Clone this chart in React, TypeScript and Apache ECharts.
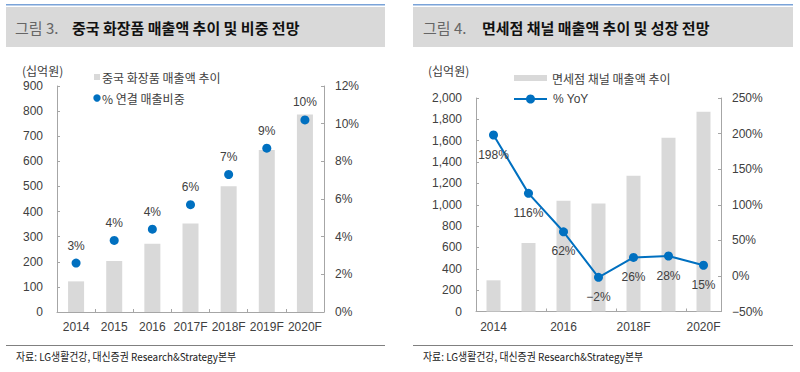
import React, { useEffect, useRef } from "react";
import * as echarts from "echarts";

// ---- data ----
const leftCategories = ["2014", "2015", "2016", "2017F", "2018F", "2019F", "2020F"];
const leftSales = [122, 203, 272, 352, 501, 645, 787]; // 십억원
const leftShare = [2.6, 3.8, 4.4, 5.7, 7.3, 8.7, 10.2]; // %
const rightCategories = ["2014", "2015", "2016", "2017F", "2018F", "2019F", "2020F"];
const rightSales = [292, 641, 1037, 1012, 1272, 1628, 1872]; // 십억원
const rightYoY = [198, 116, 62, -2, 26, 28, 15]; // %

const leftTitleNo = "그림 3.";
const leftTitle = "중국 화장품 매출액 추이 및 비중 전망";
const rightTitleNo = "그림 4.";
const rightTitle = "면세점 채널 매출액 추이 및 성장 전망";
const leftLegend = ["중국 화장품 매출액 추이", "% 연결 매출비중"];
const rightLegend = ["면세점 채널 매출액 추이", "% YoY"];
const unitLabel = "(십억원)";
const sourceText = "자료: LG생활건강, 대신증권 Research&Strategy본부";

const NUM_FONT = '"Liberation Sans", Arial, "Noto Sans CJK KR", sans-serif';
const KR_FONT = '"Noto Sans CJK KR", "Liberation Sans", sans-serif';
const TEXT = "#404040";
const AXIS = "#a6a6a6";
const BAR = "#d9d9d9";
const BLUE = "#0070c0";

const fmtPct = (v: number) => (v < 0 ? "\u2212" + Math.abs(v) : String(v)) + "%";
const fmtComma = (v: number) => v.toLocaleString("en-US");

export default function App() {
  const ref = useRef<HTMLDivElement>(null);
  useEffect(() => {
    if (!ref.current) return;
    const chart = echarts.init(ref.current, undefined, { renderer: "svg" });
    const axisLine = { show: true, lineStyle: { color: AXIS, width: 1 } };
    const yLabel = { color: TEXT, fontSize: 12, fontFamily: NUM_FONT };
    const titleBlock = (x0: number, x1: number, tx: number, bx: number, no: string, t: string) => [
      { type: "rect", shape: { x: x0, y: 4, width: x1 - x0, height: 1.5 }, style: { fill: "#7aa3d8" } },
      { type: "rect", shape: { x: x0, y: 7, width: x1 - x0, height: 40 }, style: { fill: "#d9d9d9" } },
      { type: "text", x: tx, y: 27, style: { text: no, fill: "#666666", font: `15px ${KR_FONT}`, textVerticalAlign: "middle" } },
      { type: "text", x: bx, y: 27, style: { text: t, fill: "#111111", font: `bold 15px ${KR_FONT}`, textVerticalAlign: "middle" } },
    ];
    const footer = (x0: number, x1: number, tx: number) => [
      { type: "line", shape: { x1: x0, y1: 345.5, x2: x1, y2: 345.5 }, style: { stroke: "#808080", lineWidth: 1 } },
      { type: "text", x: tx, y: 356, scaleX: 0.9, style: { text: sourceText, fill: "#222222", font: `11px ${KR_FONT}`, textVerticalAlign: "middle" } },
    ];
    chart.setOption({
      animation: false,
      grid: [
        { left: 57, right: 476, top: 86, bottom: 60 },
        { left: 476, right: 79, top: 98, bottom: 60.5 },
      ],
      xAxis: [
        {
          type: "category", gridIndex: 0, data: leftCategories, boundaryGap: true,
          axisLine, axisTick: { show: true, inside: true, length: 3, lineStyle: { color: AXIS } },
          axisLabel: { color: TEXT, fontSize: 12, fontFamily: NUM_FONT, margin: 9, interval: 0 },
        },
        {
          type: "category", gridIndex: 1, data: rightCategories, boundaryGap: true,
          axisLine, axisTick: { show: true, inside: true, length: 3, interval: 1, lineStyle: { color: AXIS } },
          axisLabel: { color: TEXT, fontSize: 12, fontFamily: NUM_FONT, margin: 9, interval: 1 },
        },
      ],
      yAxis: [
        {
          type: "value", gridIndex: 0, min: 0, max: 900, interval: 100, position: "left",
          axisLine, axisTick: { show: true, inside: true, length: 3, lineStyle: { color: AXIS } },
          axisLabel: { ...yLabel, margin: 14 }, splitLine: { show: false },
        },
        {
          type: "value", gridIndex: 0, min: 0, max: 12, interval: 2, position: "right",
          axisLine, axisTick: { show: true, inside: true, length: 3, lineStyle: { color: AXIS } },
          axisLabel: { ...yLabel, margin: 11, formatter: (v: number) => fmtPct(v) }, splitLine: { show: false },
        },
        {
          type: "value", gridIndex: 1, min: 0, max: 2000, interval: 200, position: "left",
          axisLine, axisTick: { show: true, inside: true, length: 3, lineStyle: { color: AXIS } },
          axisLabel: { ...yLabel, margin: 14, formatter: (v: number) => fmtComma(v) }, splitLine: { show: false },
        },
        {
          type: "value", gridIndex: 1, min: -50, max: 250, interval: 50, position: "right",
          axisLine, axisTick: { show: true, inside: true, length: 3, lineStyle: { color: AXIS } },
          axisLabel: { ...yLabel, margin: 11, formatter: (v: number) => fmtPct(v) }, splitLine: { show: false },
        },
      ],
      series: [
        {
          name: leftLegend[0], type: "bar", xAxisIndex: 0, yAxisIndex: 0, data: leftSales,
          barWidth: "42%", itemStyle: { color: BAR },
        },
        {
          name: leftLegend[1], type: "scatter", xAxisIndex: 0, yAxisIndex: 1, data: leftShare,
          symbol: "circle", symbolSize: 9, itemStyle: { color: BLUE, opacity: 1 },
          label: {
            show: true, position: "top", distance: 7, color: TEXT, fontSize: 12, fontFamily: NUM_FONT,
            formatter: (p: any) => Math.round(p.value) + "%",
          },
        },
        {
          name: rightLegend[0], type: "bar", xAxisIndex: 1, yAxisIndex: 2, data: rightSales,
          barWidth: "40%", itemStyle: { color: BAR },
        },
        {
          name: rightLegend[1], type: "line", xAxisIndex: 1, yAxisIndex: 3, data: rightYoY,
          symbol: "circle", symbolSize: 9, showSymbol: true,
          lineStyle: { color: BLUE, width: 2 }, itemStyle: { color: BLUE, opacity: 1 },
          label: {
            show: true, position: "bottom", distance: 9, color: TEXT, fontSize: 12, fontFamily: NUM_FONT,
            formatter: (p: any) => fmtPct(p.value),
          },
        },
      ],
      graphic: [
        ...titleBlock(6, 385, 15, 72, leftTitleNo, leftTitle),
        ...titleBlock(413, 793, 423, 482, rightTitleNo, rightTitle),
        // units
        { type: "text", x: 22, y: 70, style: { text: unitLabel, fill: TEXT, font: `12px ${KR_FONT}`, textVerticalAlign: "middle" } },
        { type: "text", x: 428, y: 70, style: { text: unitLabel, fill: TEXT, font: `12px ${KR_FONT}`, textVerticalAlign: "middle" } },
        // left legend
        { type: "rect", shape: { x: 94, y: 74, width: 6, height: 6 }, style: { fill: BAR } },
        { type: "text", x: 102, y: 77, style: { text: leftLegend[0], fill: TEXT, font: `12px ${KR_FONT}`, textVerticalAlign: "middle" } },
        { type: "circle", shape: { cx: 97, cy: 98, r: 3.7 }, style: { fill: BLUE } },
        { type: "text", x: 102, y: 98, style: { text: leftLegend[1], fill: TEXT, font: `12px ${KR_FONT}`, textVerticalAlign: "middle" } },
        // right legend
        { type: "rect", shape: { x: 514, y: 75, width: 33, height: 6 }, style: { fill: BAR } },
        { type: "text", x: 552, y: 78, style: { text: rightLegend[0], fill: TEXT, font: `12px ${KR_FONT}`, textVerticalAlign: "middle" } },
        { type: "line", shape: { x1: 514, y1: 99, x2: 547, y2: 99 }, style: { stroke: BLUE, lineWidth: 2 } },
        { type: "circle", shape: { cx: 530.5, cy: 99, r: 4.5 }, style: { fill: BLUE } },
        { type: "text", x: 553, y: 99, style: { text: rightLegend[1], fill: TEXT, font: `12px ${NUM_FONT}`, textVerticalAlign: "middle" } },
        ...footer(6, 385, 16),
        ...footer(413, 793, 423),
      ],
    });
    return () => chart.dispose();
  }, []);
  return (
    <div
      ref={ref}
      style={{ position: "absolute", left: 0, top: 0, width: 800, height: 372, background: "#ffffff" }}
    />
  );
}
